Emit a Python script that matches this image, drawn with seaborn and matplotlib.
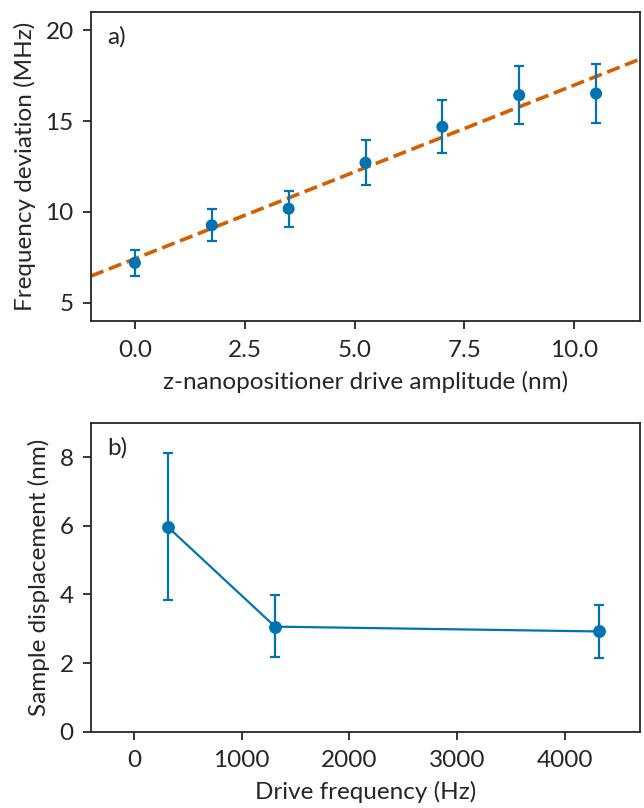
import numpy as np
import pandas as pd
import matplotlib
matplotlib.use("Agg")
import matplotlib.pyplot as plt
import seaborn as sns

# panel a) data
amp = [0.0, 1.75, 3.5, 5.25, 7.0, 8.75, 10.5]
freq_dev = [7.2, 9.27, 10.18, 12.71, 14.69, 16.43, 16.52]
freq_err = [0.72, 0.88, 0.98, 1.24, 1.45, 1.6, 1.62]
fit_slope = 0.955
fit_intercept = 7.43

# panel b) data
drive_freq = [318, 1310, 4318]
displacement = [5.95, 3.06, 2.92]
disp_err_lo = [2.12, 0.87, 0.76]
disp_err_hi = [2.17, 0.93, 0.77]

FS = 17.5

sns.set_style("ticks")
plt.rcParams['font.family'] = ['Lato', 'DejaVu Sans']
plt.rcParams['axes.linewidth'] = 1.3
plt.rcParams['xtick.major.width'] = 1.3
plt.rcParams['ytick.major.width'] = 1.3
plt.rcParams['xtick.major.size'] = 6
plt.rcParams['ytick.major.size'] = 6
plt.rcParams['xtick.major.pad'] = 7.5
plt.rcParams['ytick.major.pad'] = 6.5

pal = sns.color_palette("colorblind")
blue = pal[0]
orange = pal[3]

fig = plt.figure(figsize=(6.44, 8.08), dpi=100)
ax1 = fig.add_axes([0.1413, 0.6027, 0.8525, 0.3823])
ax2 = fig.add_axes([0.1413, 0.0944, 0.8525, 0.3825])

# a) frequency deviation vs drive amplitude
df_a = pd.DataFrame({"amp": amp, "dev": freq_dev})
xfit = np.array([-1.0, 11.5])
ax1.plot(xfit, fit_intercept + fit_slope * xfit, "--", color=orange, lw=2.6, zorder=1)
ax1.errorbar(amp, freq_dev, yerr=freq_err, fmt="none", ecolor=blue,
             elinewidth=1.6, capsize=3.5, capthick=1.6, zorder=2)
sns.scatterplot(data=df_a, x="amp", y="dev", ax=ax1, color=blue, s=75,
                edgecolor="none", zorder=3)
ax1.set_xlim(-1, 11.5)
ax1.set_ylim(4, 21)
ax1.set_xticks([0, 2.5, 5, 7.5, 10])
ax1.set_xticklabels(["0.0", "2.5", "5.0", "7.5", "10.0"])
ax1.set_yticks([5, 10, 15, 20])
ax1.set_xlabel("z-nanopositioner drive amplitude (nm)", fontsize=FS, labelpad=7)
ax1.set_ylabel("Frequency deviation (MHz)", fontsize=FS, labelpad=7)
ax1.tick_params(labelsize=FS)
ax1.text(0.03, 0.955, "a)", transform=ax1.transAxes, va="top", ha="left", fontsize=FS)

# b) sample displacement vs drive frequency
df_b = pd.DataFrame({"f": drive_freq, "d": displacement})
ax2.errorbar(drive_freq, displacement, yerr=[disp_err_lo, disp_err_hi], fmt="none",
             ecolor=blue, elinewidth=1.6, capsize=3.5, capthick=1.6, zorder=2)
sns.lineplot(data=df_b, x="f", y="d", ax=ax2, color=blue, lw=1.6, marker="o",
             markersize=8.5, markeredgecolor=blue, zorder=3)
ax2.set_xlim(-400, 4700)
ax2.set_ylim(0, 9)
ax2.set_xticks([0, 1000, 2000, 3000, 4000])
ax2.set_yticks([0, 2, 4, 6, 8])
ax2.set_xlabel("Drive frequency (Hz)", fontsize=FS, labelpad=7)
ax2.set_ylabel("Sample displacement (nm)", fontsize=FS, labelpad=7)
ax2.tick_params(labelsize=FS)
ax2.text(0.03, 0.955, "b)", transform=ax2.transAxes, va="top", ha="left", fontsize=FS)

fig.savefig("out.png", dpi=100)
